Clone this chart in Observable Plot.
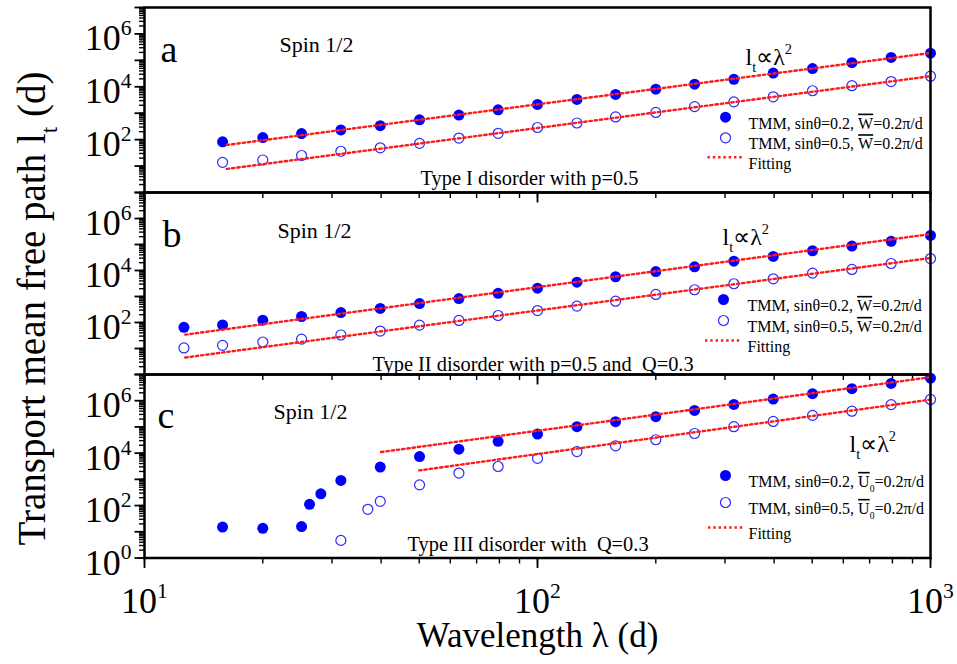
<!DOCTYPE html>
<html><head><meta charset="utf-8">
<script src="https://cdn.jsdelivr.net/npm/d3@7"></script>
<script src="https://cdn.jsdelivr.net/npm/@observablehq/plot@0.6"></script>
<style>
body{margin:0;background:#fff;}
#chart{position:relative;width:957px;height:664px;font-family:"Liberation Serif",serif;}
#chart svg{position:absolute;left:0;overflow:visible;background:transparent;}
</style></head><body><div id="chart"></div>
<script>
// ---------- data ----------
const lambdaA = [15.8, 20, 25.1, 31.6, 39.8, 50.1, 63.1, 79.4, 100, 126, 158, 200, 251, 316, 398, 501, 631, 794, 1000];
const aFilled = [83, 120, 170, 234, 339, 562, 851, 1350, 2140, 3310, 5130, 8130, 12600, 19100, 33100, 49000, 81300, 129000, 186000];
const aOpen   = [13.8, 17.0, 25.1, 36.3, 49.0, 72.4, 115, 174, 288, 427, 724, 1070, 1780, 2690, 4170, 7080, 11000, 15800, 25100];
const aFitFilled = [[16.2, 63], [1000, 190000]];
const aFitOpen   = [[16.2, 7.8], [1000, 25100]];

const lambdaB = [12.6, 15.8, 20, 25.1, 31.6, 39.8, 50.1, 63.1, 79.4, 100, 126, 158, 200, 251, 316, 398, 501, 631, 794, 1000];
const bFilled = [65, 81, 123, 170, 240, 347, 537, 832, 1320, 2090, 3550, 5750, 9120, 13800, 22900, 34700, 57500, 87100, 132000, 224000];
const bOpen   = [10.5, 13.2, 17.8, 22.9, 33.1, 46.8, 79.4, 120, 186, 288, 427, 661, 1200, 1820, 3090, 4790, 7940, 11000, 18600, 28800];
const bFitFilled = [[12.7, 34], [1000, 251000]];
const bFitOpen   = [[12.7, 4.5], [1000, 30200]];

const lambdaCFilled = [15.8, 20, 25.1, 26.3, 28.1, 31.6, 39.8, 50.1, 63.1, 79.4, 100, 126, 158, 200, 251, 316, 398, 501, 631, 794, 1000];
const cFilled = [15.1, 13.5, 15.8, 112, 282, 912, 2950, 7410, 14100, 28200, 53700, 102000, 158000, 245000, 427000, 724000, 1150000, 1860000, 2880000, 4570000, 7240000];
const lambdaCOpen = [31.6, 37, 39.8, 50.1, 63.1, 79.4, 100, 126, 158, 200, 251, 316, 398, 501, 631, 794, 1000];
const cOpen = [4.7, 72, 145, 617, 1740, 3090, 6310, 11500, 19100, 32400, 56200, 102000, 162000, 275000, 398000, 708000, 1120000];
const cFitFilled = [[40, 11000], [1000, 7900000]];
const cFitOpen   = [[50, 2190], [1000, 1100000]];

const panelLetters = ["a", "b", "c"];
const spinLabel = "Spin 1/2";
const disorderLabels = ["Type I disorder with p=0.5", "Type II disorder with p=0.5 and  Q=0.3", "Type III disorder with  Q=0.3"];
const lawLabel = "l_{t}\u221D\u03BB^{2}";
const legendFilled = ["TMM, sin\u03B8=0.2, ~{W}=0.2\u03C0/d", "TMM, sin\u03B8=0.2, ~{W}=0.2\u03C0/d", "TMM, sin\u03B8=0.2, ~{U}_{0}=0.2\u03C0/d"];
const legendOpen   = ["TMM, sin\u03B8=0.5, ~{W}=0.2\u03C0/d", "TMM, sin\u03B8=0.5, ~{W}=0.2\u03C0/d", "TMM, sin\u03B8=0.5, ~{U}_{0}=0.2\u03C0/d"];
const legendFit = "Fitting";
const xTitle = "Wavelength \u03BB (d)";
const yTitle = "Transport mean free path l_{t} (d)";

const xDecades = [10, 100, 1000];
const yDecades = [1, 10, 100, 1e3, 1e4, 1e5, 1e6, 1e7];
const yLabelTicksAB = [1e2, 1e4, 1e6];
const yLabelTicksC = [1, 1e2, 1e4, 1e6];

// ---------- helpers ----------
const xMinor = d3.scaleLog().domain([10, 1000]).ticks();
const yMinor = d3.scaleLog().domain([1, 1e7]).ticks();
const powFmt = d => `10^{${Math.round(Math.log10(d))}}`;
const pts = (xs, ys) => xs.map((x, i) => ({x, y: ys[i]}));
const fitPts = arr => arr.map(([x, y]) => ({x, y}));
const BLUE = "#0000ff", OPENBLUE = "#2a2aff", RED = "#ff1a1a";
const DOTS = "2.4,2.9";
const lineSymbol = {draw(ctx) { ctx.moveTo(-18.5, 0); ctx.lineTo(18.5, 0); }};

const cfgs = [
  {top: 0, mt: 7, fh: 185, mb: 20, lam: lambdaA, f: aFilled, lamO: lambdaA, o: aOpen, ff: aFitFilled, fo: aFitOpen,
   letter: {dx: 16, dy: 28}, spin: {dx: 135, dy: 29}, dis: {dx: 276, dy: 163}, law: {dx: 601, dy: 40},
   leg: {x: 581, y: [109.7, 130.3, 149.7], tx: 604, lx: 581.5}, yLab: yLabelTicksAB, xLab: false},
  {top: 182, mt: 10, fh: 182, mb: 20, lam: lambdaB, f: bFilled, lamO: lambdaB, o: bOpen, ff: bFitFilled, fo: bFitOpen,
   letter: {dx: 18, dy: 28}, spin: {dx: 133, dy: 30}, dis: {dx: 228, dy: 164}, law: {dx: 578, dy: 35},
   leg: {x: 579, y: [107, 128, 148], tx: 603, lx: 579}, yLab: yLabelTicksAB, xLab: false, yTitle: true},
  {top: 364, mt: 10, fh: 183.5, mb: 106.5, lam: lambdaCFilled, f: cFilled, lamO: lambdaCOpen, o: cOpen, ff: cFitFilled, fo: cFitOpen,
   letter: {dx: 13, dy: 27}, spin: {dx: 129, dy: 29}, dis: {dx: 263, dy: 162.5}, law: {dx: 705, dy: 60},
   leg: {x: 581, y: [101, 128, 153], tx: 604, lx: 582}, yLab: yLabelTicksC, xLab: true}
];

const chart = document.getElementById("chart");
cfgs.forEach((c, i) => {
  const txt = (s, o) => Plot.text([s], {text: d => d, frameAnchor: "top-left", textAnchor: "start", ...o});
  const marks = [
    Plot.axisY(yMinor, {tickSize: 5, tickFormat: () => "", strokeWidth: 1.4, label: null}),
    Plot.axisY(yDecades, {tickSize: 9.5, tickFormat: () => "", strokeWidth: 1.8, label: null}),
    Plot.axisY(c.yLab, {tickSize: 0, tickPadding: 13, dy: 5, fontSize: 36, tickFormat: powFmt, label: null}),
    Plot.axisX(xMinor, {tickSize: 6, tickFormat: () => "", strokeWidth: 1.4, label: null}),
    Plot.axisX(xDecades, {tickSize: 10.5, tickPadding: 19, fontSize: 36, strokeWidth: 1.8,
      tickFormat: c.xLab ? powFmt : () => "", label: null}),
    Plot.dot(pts(c.lam, c.f), {x: "x", y: "y", r: 5.5, fill: BLUE}),
    Plot.dot(pts(c.lamO, c.o), {x: "x", y: "y", r: 5, stroke: OPENBLUE, strokeWidth: 1.2, fill: "white"}),
    Plot.line(fitPts(c.ff), {x: "x", y: "y", stroke: RED, strokeWidth: 2.4, strokeDasharray: DOTS}),
    Plot.line(fitPts(c.fo), {x: "x", y: "y", stroke: RED, strokeWidth: 2.4, strokeDasharray: DOTS}),
    Plot.frame({stroke: "black", strokeWidth: 2.5}),
    txt(panelLetters[i], {dx: c.letter.dx, dy: c.letter.dy, fontSize: 38}),
    txt(spinLabel, {dx: c.spin.dx, dy: c.spin.dy, fontSize: 22}),
    txt(disorderLabels[i], {dx: c.dis.dx, dy: c.dis.dy, fontSize: 20.4}),
    txt(lawLabel, {dx: c.law.dx, dy: c.law.dy, fontSize: 24}),
    Plot.dot([0], {frameAnchor: "top-left", dx: c.leg.x, dy: c.leg.y[0], r: 5.5, fill: BLUE}),
    Plot.dot([0], {frameAnchor: "top-left", dx: c.leg.x, dy: c.leg.y[1], r: 5, stroke: OPENBLUE, strokeWidth: 1.2, fill: "none"}),
    Plot.dot([0], {frameAnchor: "top-left", dx: c.leg.lx, dy: c.leg.y[2], r: 5, symbol: lineSymbol, fill: "none",
      stroke: RED, strokeWidth: 2.4, strokeDasharray: DOTS}),
    txt(legendFilled[i], {dx: c.leg.tx, dy: c.leg.y[0], fontSize: 16}),
    txt(legendOpen[i], {dx: c.leg.tx, dy: c.leg.y[1], fontSize: 16}),
    txt(legendFit, {dx: c.leg.tx, dy: c.leg.y[2], fontSize: 16})
  ];
  if (c.xLab) marks.push(Plot.text([xTitle], {text: d => d, frameAnchor: "bottom", textAnchor: "middle", dy: 89, fontSize: 35}));
  if (c.yTitle) marks.push(Plot.text([yTitle], {text: d => d, frameAnchor: "left", textAnchor: "middle", dx: -112, dy: 25, rotate: -90, fontSize: 39}));
  const svg = Plot.plot({
    width: 957, height: c.mt + c.fh + c.mb,
    marginLeft: 144, marginRight: 27, marginTop: c.mt, marginBottom: c.mb,
    x: {type: "log", domain: [10, 1000]},
    y: {type: "log", domain: [1, 1e7]},
    style: {fontFamily: "Liberation Serif, Times New Roman, serif", background: "transparent", overflow: "visible", color: "black"},
    marks
  });
  svg.style.top = c.top + "px";
  chart.appendChild(svg);
});

// rich text: ^{sup}, _{sub}, ~{overline}
const NS = "http://www.w3.org/2000/svg";
chart.querySelectorAll("text").forEach(t => {
  const s = t.textContent;
  if (!/[\^_~]\{/.test(s)) return;
  const F = parseFloat(getComputedStyle(t).fontSize);
  const parts = s.split(/([\^_~]\{[^}]*\})/).filter(p => p !== "");
  t.textContent = "";
  let shift = 0;
  for (const p of parts) {
    const ts = document.createElementNS(NS, "tspan");
    let target = 0, body = p, size = null, over = false;
    if (p.startsWith("^{")) { target = -0.42 * F; body = p.slice(2, -1); size = 0.6 * F; }
    else if (p.startsWith("_{")) { target = 0.3 * F; body = p.slice(2, -1); size = 0.6 * F; }
    else if (p.startsWith("~{")) { body = p.slice(2, -1); over = true; }
    const dy = target - shift;
    if (dy) ts.setAttribute("dy", dy.toFixed(2));
    shift = target;
    if (size) ts.setAttribute("font-size", size.toFixed(2));
    if (over) ts.setAttribute("text-decoration", "overline");
    ts.textContent = body;
    t.appendChild(ts);
  }
});
</script></body></html>
